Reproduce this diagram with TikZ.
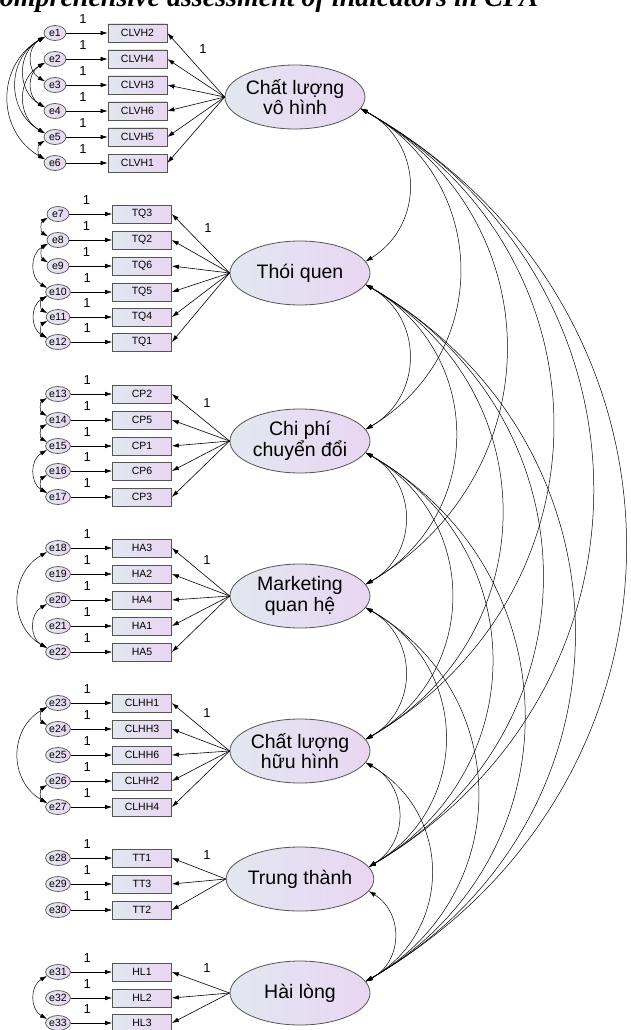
\documentclass[tikz,border=0pt]{standalone}
\usepackage{fontspec}
\setmainfont{Liberation Sans}
\newfontfamily\capfont{Liberation Serif}
\usetikzlibrary{arrows.meta,shapes.geometric}

\definecolor{shadeL}{RGB}{226,231,240}
\definecolor{shadeR}{RGB}{233,214,242}
\definecolor{edgegray}{RGB}{85,85,85}

\tikzset{
  >={Latex[length=7pt,width=4.5pt]},
  latent/.style={ellipse, draw=edgegray, line width=0.8pt, left color=shadeL, right color=shadeR,
    minimum width=140pt, minimum height=64pt, inner sep=0pt, align=center,
    font=\fontsize{19.5}{20.5}\selectfont},
  err/.style={ellipse, draw=edgegray, line width=0.7pt, left color=shadeL, right color=shadeR,
    minimum width=22pt, minimum height=15pt, inner sep=0pt, font=\fontsize{10.5}{10.5}\selectfont},
  ind/.style={rectangle, draw=edgegray, line width=0.7pt, left color=shadeL, right color=shadeR,
    minimum width=59pt, minimum height=18pt, inner sep=0pt, font=\fontsize{10.5}{10.5}\selectfont},
  fixarr/.style={->, line width=0.6pt},
  load/.style={->, line width=0.6pt},
  covr/.style={<->, line width=0.5pt, bend left=60, looseness=1.18},
  covl/.style={<->, line width=0.5pt, bend right=60, looseness=1.18},
  one/.style={font=\fontsize{13}{13}\selectfont, inner sep=0pt},
}

\begin{document}
\begin{tikzpicture}[x=1pt,y=-1pt]
\useasboundingbox (0,0) rectangle (631,1030);
\clip (0,0) rectangle (631,1030);
\fill[white] (0,0) rectangle (631,1030);

% caption line
\node[anchor=base west, inner sep=0pt, font=\capfont\fontsize{28}{28}\selectfont\bfseries\itshape]
  (cap) at (-19,7) {Comprehensive assessment of indicators in CFA};

% latent factors
\node[latent] (L1) at (295,97)  {Chất lượng\\vô hình};
\node[latent] (L2) at (300,273) {Thói quen};
\node[latent] (L3) at (300,441) {Chi phí\\chuyển đổi};
\node[latent] (L4) at (300,596) {Marketing\\quan hệ};
\node[latent] (L5) at (300,751) {Chất lượng\\hữu hình};
\node[latent] (L6) at (300,879) {Trung thành};
\node[latent] (L7) at (300,993) {Hài lòng};

% indicators with their error terms
\foreach \n/\lab/\y in {1/CLVH2/33,2/CLVH4/59,3/CLVH3/85,4/CLVH6/111,5/CLVH5/137,6/CLVH1/163}{
  \node[err] (e\n) at (55,\y) {e\n};
  \node[ind] (v\n) at (137.5,\y) {\lab};
  \draw[fixarr] (e\n) -- node[one,pos=0.4,above=9pt]{1} (v\n);
  \draw[load] (L1.west) -- (v\n.east);
}
\foreach \n/\lab/\y in {7/TQ3/214,8/TQ2/240,9/TQ6/266,10/TQ5/292,11/TQ4/317,12/TQ1/342}{
  \node[err] (e\n) at (58,\y) {e\n};
  \node[ind] (v\n) at (142,\y) {\lab};
  \draw[fixarr] (e\n) -- node[one,pos=0.4,above=9pt]{1} (v\n);
  \draw[load] (L2.west) -- (v\n.east);
}
\foreach \n/\lab/\y in {13/CP2/394,14/CP5/420,15/CP1/446,16/CP6/471,17/CP3/497}{
  \node[err] (e\n) at (58,\y) {e\n};
  \node[ind] (v\n) at (142,\y) {\lab};
  \draw[fixarr] (e\n) -- node[one,pos=0.4,above=9pt]{1} (v\n);
  \draw[load] (L3.west) -- (v\n.east);
}
\foreach \n/\lab/\y in {18/HA3/548,19/HA2/574,20/HA4/600,21/HA1/626,22/HA5/652}{
  \node[err] (e\n) at (58,\y) {e\n};
  \node[ind] (v\n) at (142,\y) {\lab};
  \draw[fixarr] (e\n) -- node[one,pos=0.4,above=9pt]{1} (v\n);
  \draw[load] (L4.west) -- (v\n.east);
}
\foreach \n/\lab/\y in {23/CLHH1/703,24/CLHH3/729,25/CLHH6/755,26/CLHH2/781,27/CLHH4/807}{
  \node[err] (e\n) at (58,\y) {e\n};
  \node[ind] (v\n) at (142,\y) {\lab};
  \draw[fixarr] (e\n) -- node[one,pos=0.4,above=9pt]{1} (v\n);
  \draw[load] (L5.west) -- (v\n.east);
}
\foreach \n/\lab/\y in {28/TT1/858,29/TT3/884,30/TT2/910}{
  \node[err] (e\n) at (58,\y) {e\n};
  \node[ind] (v\n) at (142,\y) {\lab};
  \draw[fixarr] (e\n) -- node[one,pos=0.4,above=9pt]{1} (v\n);
  \draw[load] (L6.west) -- (v\n.east);
}
\foreach \n/\lab/\y in {31/HL1/972,32/HL2/998,33/HL3/1023}{
  \node[err] (e\n) at (58,\y) {e\n};
  \node[ind] (v\n) at (142,\y) {\lab};
  \draw[fixarr] (e\n) -- node[one,pos=0.4,above=9pt]{1} (v\n);
  \draw[load] (L7.west) -- (v\n.east);
}

% fixed loadings
\node[one] (w1) at (203,49)  {1};
\node[one] (w2) at (208,228) {1};
\node[one] (w3) at (207,403) {1};
\node[one] (w4) at (207,560) {1};
\node[one] (w5) at (207,713) {1};
\node[one] (w6) at (207,855) {1};
\node[one] (w7) at (207,968) {1};

% error covariances
\foreach \a/\b in {1/3,1/4,1/5,1/6,2/4,2/5,5/6,
                   7/8,8/9,8/10,10/11,10/12,11/12,
                   13/14,14/15,15/17,16/17,
                   18/22,20/22,
                   23/24,23/27,26/27,
                   31/33}{
  \draw[covl] (e\a.200) to (e\b.160);
}

% factor covariances
\foreach \i [evaluate=\i as \s using int(\i+1)] in {1,...,6}{
  \foreach \j in {\s,...,7}{
    \draw[covr] (L\i.-10) to (L\j.10);
  }
}
\end{tikzpicture}
\end{document}
